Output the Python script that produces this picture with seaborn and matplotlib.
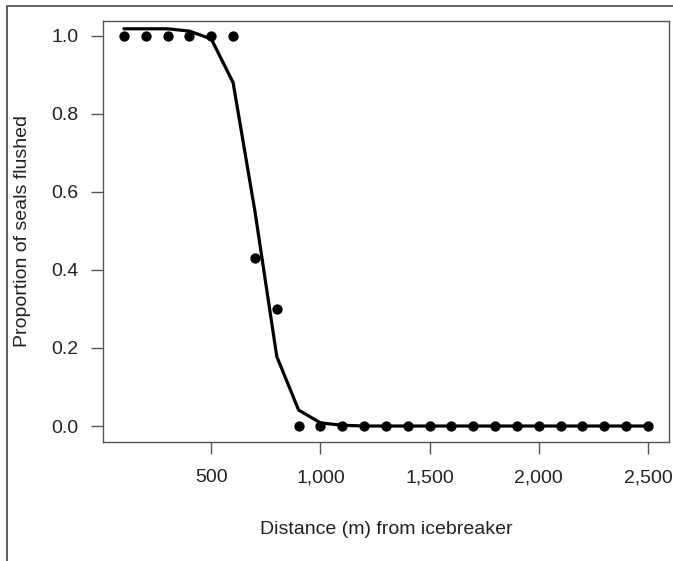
import numpy as np
import pandas as pd
import matplotlib
matplotlib.use("Agg")
import matplotlib.pyplot as plt
import seaborn as sns
from matplotlib.patches import Rectangle
from matplotlib.ticker import FuncFormatter

# observed proportions of seals flushed by distance
distance = [100, 200, 300, 400, 500, 600, 700, 800, 900, 1000, 1100, 1200, 1300,
            1400, 1500, 1600, 1700, 1800, 1900, 2000, 2100, 2200, 2300, 2400, 2500]
observed = [1.0, 1.0, 1.0, 1.0, 1.0, 1.0, 0.43, 0.30, 0.0, 0.0, 0.0, 0.0, 0.0,
            0.0, 0.0, 0.0, 0.0, 0.0, 0.0, 0.0, 0.0, 0.0, 0.0, 0.0, 0.0]
# fitted curve
fitted = [1.018, 1.018, 1.018, 1.012, 0.992, 0.88, 0.55, 0.178, 0.041, 0.008, 0.002,
          0.0, 0.0, 0.0, 0.0, 0.0, 0.0, 0.0, 0.0, 0.0, 0.0, 0.0, 0.0, 0.0, 0.0]

df = pd.DataFrame({'Distance': distance, 'Observed': observed, 'Fitted': fitted})

sns.set_style("ticks")
plt.rcParams['font.family'] = ['Liberation Sans', 'DejaVu Sans']

fig = plt.figure(figsize=(6.73, 5.61), dpi=100)
ax = fig.add_axes([0.153, 0.2121, 0.841, 0.7505])

sns.lineplot(data=df, x='Distance', y='Fitted', color='black', linewidth=2.3, ax=ax)
sns.scatterplot(data=df, x='Distance', y='Observed', color='black', s=55,
                edgecolor='black', linewidth=0, zorder=3, ax=ax)

ax.set_xlim(4, 2596)
ax.set_ylim(-0.041, 1.038)
ax.set_xticks([500, 1000, 1500, 2000, 2500])
ax.set_yticks([0.0, 0.2, 0.4, 0.6, 0.8, 1.0])
ax.xaxis.set_major_formatter(FuncFormatter(lambda v, p: '{:,.0f}'.format(v)))
ax.yaxis.set_major_formatter(FuncFormatter(lambda v, p: '{:.1f}'.format(v)))

for s in ax.spines.values():
    s.set_visible(True)
    s.set_color('#555555')
    s.set_linewidth(1.0)
ax.tick_params(axis='both', length=8.5, width=1.0, color='#555555',
               labelsize=14, labelcolor='#222222')
ax.tick_params(axis='x', pad=11)
ax.tick_params(axis='y', pad=9)

ax.set_xlabel('Distance (m) from icebreaker', fontsize=14, color='#222222', labelpad=25)
ax.set_ylabel('Proportion of seals flushed', fontsize=14, color='#222222', labelpad=15)

# outer frame of the figure
fig.patches.append(Rectangle((7 / 673, -0.5), 1.5, 0.5 + 1 - 6 / 561, transform=fig.transFigure,
                             fill=False, edgecolor='#444444', linewidth=1.2))

fig.savefig('out.png', dpi=100)
